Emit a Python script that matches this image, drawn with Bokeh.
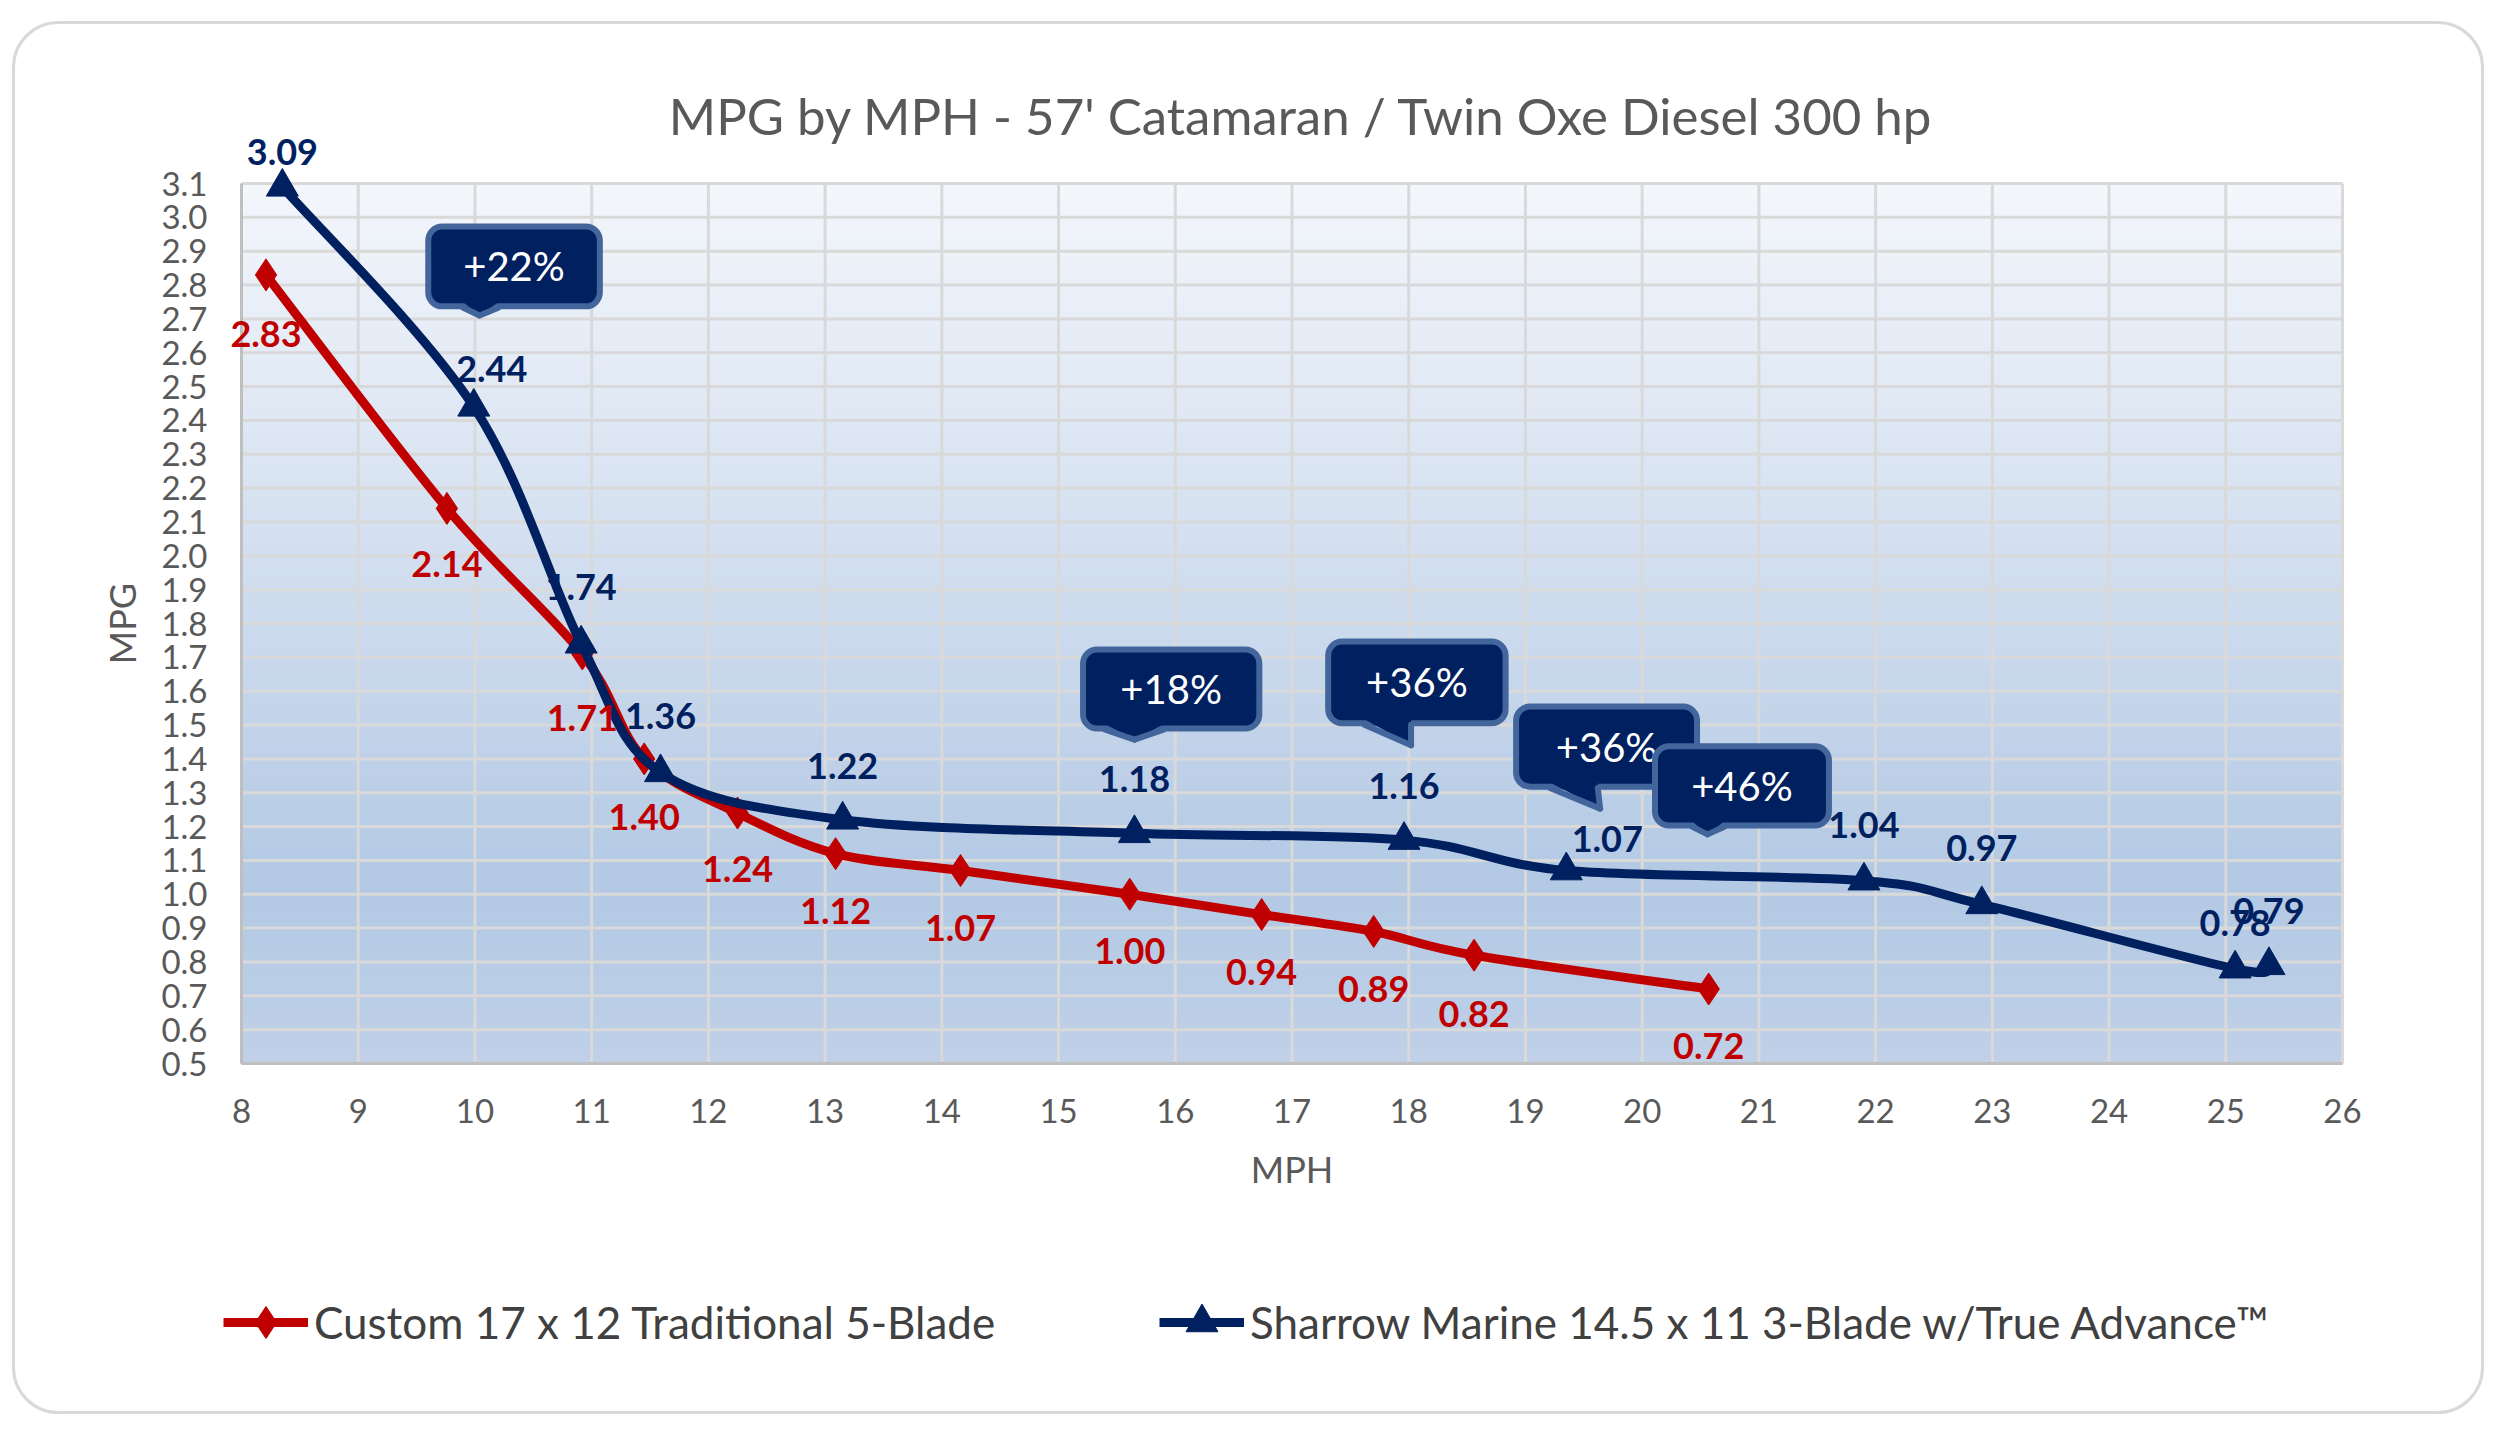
import numpy as np
from bokeh.plotting import figure
from bokeh.models import (Range1d, FixedTicker, PrintfTickFormatter, ColumnDataSource,
                          LabelSet, Label, Legend, LegendItem)
from bokeh.core.properties import value
from bokeh.embed import file_html
from bokeh.resources import INLINE

# ---------------- data ----------------
title_text = "MPG by MPH - 57' Catamaran / Twin Oxe Diesel 300 hp"
x_title = "MPH"
y_title = "MPG"
red_name = "Custom 17 x 12 Traditional 5-Blade"
blue_name = "Sharrow Marine 14.5 x 11 3-Blade w/True Advance\u2122"

red_mph = [8.21, 9.76, 10.92, 11.45, 12.25, 13.09, 14.16, 15.61, 16.74, 17.70, 18.56, 20.57]
red_mpg = [2.83, 2.14, 1.71, 1.40, 1.24, 1.12, 1.07, 1.00, 0.94, 0.89, 0.82, 0.72]

blue_mph = [8.35, 9.99, 10.91, 11.59, 13.15, 15.65, 17.96, 19.35, 21.90, 22.91, 25.08, 25.37]
blue_mpg = [3.09, 2.44, 1.74, 1.36, 1.22, 1.18, 1.16, 1.07, 1.04, 0.97, 0.78, 0.79]

x_ticks = list(range(8, 27))
y_ticks = [round(0.5 + 0.1 * i, 1) for i in range(27)]

callout_texts = ["+22%", "+18%", "+36%", "+36%", "+46%"]

# ---------------- styling / layout ----------------
RED = "#c00000"
NAVY = "#002060"
EDGE = "#42669c"
GRAY_TXT = "#595959"
FONT = "Lato"

X0, X1 = 8, 26
Y0, Y1 = 0.5, 3.1

# canvas size and plot-area position in canvas pixels
CW, CH = 2490, 1430
PL, PR, PT, PB = 241, 2342, 183, 1063
XPX = (PR - PL) / (X1 - X0)
YPX = (PB - PT) / (Y1 - Y0)


def sx(px):
    return X0 + (px - PL) / XPX


def sy(py):
    return Y0 + (PB - py) / YPX


# data-label offsets (screen px)
red_dx = [0] * 12
red_dy = [-59, -56, -64, -58, -56, -57, -57, -57, -57, -57, -59, -57]
blue_dx = [0, 18, 0, 0, 0, 0, 0, 41, 0, 0, 0, 0]
blue_dy = [35, 38, 57, 56, 54, 54, 54, 32, 56, 56, 46, 54]

# callout geometry: left, right, top, bottom, tail base left, tail base right, tip x, tip y
callout_geom = [
    (9.60, 11.07, 2.973, 2.737, 9.90, 10.20, 10.04, 2.71),
    (15.21, 16.72, 1.723, 1.490, 15.40, 15.90, 15.65, 1.457),
    (17.31, 18.83, 1.747, 1.505, 17.62, 18.02, 18.02, 1.440),
    (18.92, 20.47, 1.555, 1.318, 19.21, 19.62, 19.64, 1.253),
    (20.11, 21.60, 1.437, 1.203, 20.43, 20.70, 20.56, 1.177),
]

p = figure(width=CW, height=CH, x_range=Range1d(sx(0), sx(CW)), y_range=Range1d(sy(CH), sy(0)),
           output_backend="svg", toolbar_location=None,
           min_border_left=0, min_border_right=0, min_border_top=0, min_border_bottom=0)
p.title.visible = False
p.outline_line_color = None
p.background_fill_color = "white"
p.border_fill_color = "white"
p.xgrid.visible = False
p.ygrid.visible = False

# outer rounded chart border
p.quad(left=[sx(13)], right=[sx(2482)], top=[sy(22)], bottom=[sy(1412)], fill_color=None,
       line_color="#d9d9d9", line_width=3, border_radius=45)

# gradient background of the plot area
n = 400
t = np.linspace(0.0, 1.0, n)  # bottom -> top
st = [0.0, 0.2, 0.5, 1.0]
rr = np.interp(t, st, [192, 179, 205, 244])
gg = np.interp(t, st, [209, 201, 219, 247])
bb = np.interp(t, st, [233, 228, 238, 252])
img = np.empty((n, 1), dtype=np.uint32)
view = img.view(dtype=np.uint8).reshape((n, 1, 4))
view[:, 0, 0] = rr.astype(np.uint8)
view[:, 0, 1] = gg.astype(np.uint8)
view[:, 0, 2] = bb.astype(np.uint8)
view[:, 0, 3] = 255
p.image_rgba(image=[img], x=X0, y=Y0, dw=X1 - X0, dh=Y1 - Y0)

# grid lines restricted to the plot area
p.segment(x0=x_ticks, x1=x_ticks, y0=[Y0] * len(x_ticks), y1=[Y1] * len(x_ticks),
          line_color="#d9d9d9", line_width=3)
p.segment(x0=[X0] * len(y_ticks), x1=[X1] * len(y_ticks), y0=y_ticks, y1=y_ticks,
          line_color="#d9d9d9", line_width=3)

# axes at fixed positions
p.xaxis.fixed_location = Y0
p.yaxis.fixed_location = X0
p.xaxis.bounds = (X0, X1)
p.yaxis.bounds = (Y0, Y1)
p.xaxis.ticker = FixedTicker(ticks=x_ticks)
p.yaxis.ticker = FixedTicker(ticks=y_ticks)
p.yaxis.formatter = PrintfTickFormatter(format="%.1f")
for ax in (p.xaxis, p.yaxis):
    ax.major_tick_line_color = None
    ax.minor_tick_line_color = None
    ax.major_tick_out = 0
    ax.major_tick_in = 0
    ax.minor_tick_out = 0
    ax.axis_line_color = "#bfbfbf"
    ax.axis_line_width = 3
    ax.major_label_text_font = FONT
    ax.major_label_text_font_size = "33px"
    ax.major_label_text_color = GRAY_TXT
    ax.axis_label_text_font = FONT
    ax.axis_label_text_font_size = "36px"
    ax.axis_label_text_font_style = "normal"
    ax.axis_label_text_color = GRAY_TXT
p.xaxis.axis_label = x_title
p.yaxis.axis_label = y_title
p.xaxis.major_label_standoff = 35
p.xaxis.axis_label_standoff = 21
p.yaxis.major_label_standoff = 34
p.yaxis.axis_label_standoff = 14


def smooth_segments(xs, ys):
    P = np.column_stack([xs, ys]).astype(float)
    m = len(P)
    seg = {k: [] for k in ("x0", "y0", "x1", "y1", "cx0", "cy0", "cx1", "cy1")}
    for i in range(m - 1):
        a = P[i - 1] if i > 0 else P[i]
        d = P[i + 2] if i + 2 < m else P[i + 1]
        c1 = P[i] + (P[i + 1] - a) / 6.0
        c2 = P[i + 1] - (d - P[i]) / 6.0
        seg["x0"].append(P[i][0]); seg["y0"].append(P[i][1])
        seg["x1"].append(P[i + 1][0]); seg["y1"].append(P[i + 1][1])
        seg["cx0"].append(c1[0]); seg["cy0"].append(c1[1])
        seg["cx1"].append(c2[0]); seg["cy1"].append(c2[1])
    return seg


LW = 9
DIA = 32
TRI = 32
red_seg = ColumnDataSource(smooth_segments(red_mph, red_mpg))
p.bezier(x0="x0", y0="y0", x1="x1", y1="y1", cx0="cx0", cy0="cy0", cx1="cx1", cy1="cy1",
         source=red_seg, line_color=RED, line_width=LW, line_cap="round")
red_pts = p.scatter(red_mph, red_mpg, marker="diamond", size=DIA, fill_color=RED, line_color=RED)

blue_seg = ColumnDataSource(smooth_segments(blue_mph, blue_mpg))
p.bezier(x0="x0", y0="y0", x1="x1", y1="y1", cx0="cx0", cy0="cy0", cx1="cx1", cy1="cy1",
         source=blue_seg, line_color=NAVY, line_width=LW, line_cap="round")
blue_pts = p.scatter(blue_mph, blue_mpg, marker="triangle", size=TRI, fill_color=NAVY,
                     line_color=NAVY)

# callouts
for txt, (L, R, T, B, bl, br, tx, ty) in zip(callout_texts, callout_geom):
    p.quad(left=[L], right=[R], top=[T], bottom=[B], fill_color=NAVY,
           line_color=EDGE, line_width=6, border_radius=14)
    p.patch(x=[bl, br, tx], y=[B + 0.012, B + 0.012, ty], fill_color=NAVY, line_color=None)
    p.multi_line(xs=[[bl, tx], [br, tx]], ys=[[B - 0.004, ty], [B - 0.004, ty]],
                 line_color=EDGE, line_width=6, line_cap="round")
    p.text(x=[(L + R) / 2], y=[(T + B) / 2], text=[txt], text_color="white",
           text_font=value(FONT), text_font_size="40px", text_align="center",
           text_baseline="middle")

# data labels
red_src = ColumnDataSource(dict(x=red_mph, y=red_mpg, t=[f"{v:.2f}" for v in red_mpg],
                                dx=red_dx, dy=red_dy))
blue_src = ColumnDataSource(dict(x=blue_mph, y=blue_mpg, t=[f"{v:.2f}" for v in blue_mpg],
                                 dx=blue_dx, dy=blue_dy))
for src, col in ((red_src, RED), (blue_src, NAVY)):
    p.add_layout(LabelSet(x="x", y="y", text="t", x_offset="dx", y_offset="dy", source=src,
                          text_align="center", text_baseline="middle",
                          text_font=value(FONT), text_font_style="bold",
                          text_font_size="36px", text_color=col))

# title
p.add_layout(Label(x=sx(1301), y=sy(115), text=title_text, text_align="center",
                   text_baseline="middle", text_font=FONT, text_font_size="51px",
                   text_color=GRAY_TXT))

# legend (two separately placed entries); the one-point lines only provide the legend sample
lr_line = p.line(x=red_mph[:1], y=red_mpg[:1], line_color=RED, line_width=LW)
lb_line = p.line(x=blue_mph[:1], y=blue_mpg[:1], line_color=NAVY, line_width=LW)

LEG_H = 80
LEG_BOTTOM = CH - (1322 + LEG_H // 2)
for name, rends, lx in ((red_name, [lr_line, red_pts], 223),
                        (blue_name, [lb_line, blue_pts], 1159)):
    leg = Legend(items=[LegendItem(label=name, renderers=rends, index=0)],
                 location=(lx, LEG_BOTTOM),
                 orientation="horizontal", glyph_width=85, glyph_height=LEG_H, label_standoff=6,
                 label_height=LEG_H,
                 label_text_font=FONT, label_text_font_size="44px", label_text_color="#404040",
                 padding=0, margin=0, border_line_color=None, background_fill_alpha=0, spacing=0)
    p.add_layout(leg)

open("out.html", "w").write(file_html(p, INLINE))
